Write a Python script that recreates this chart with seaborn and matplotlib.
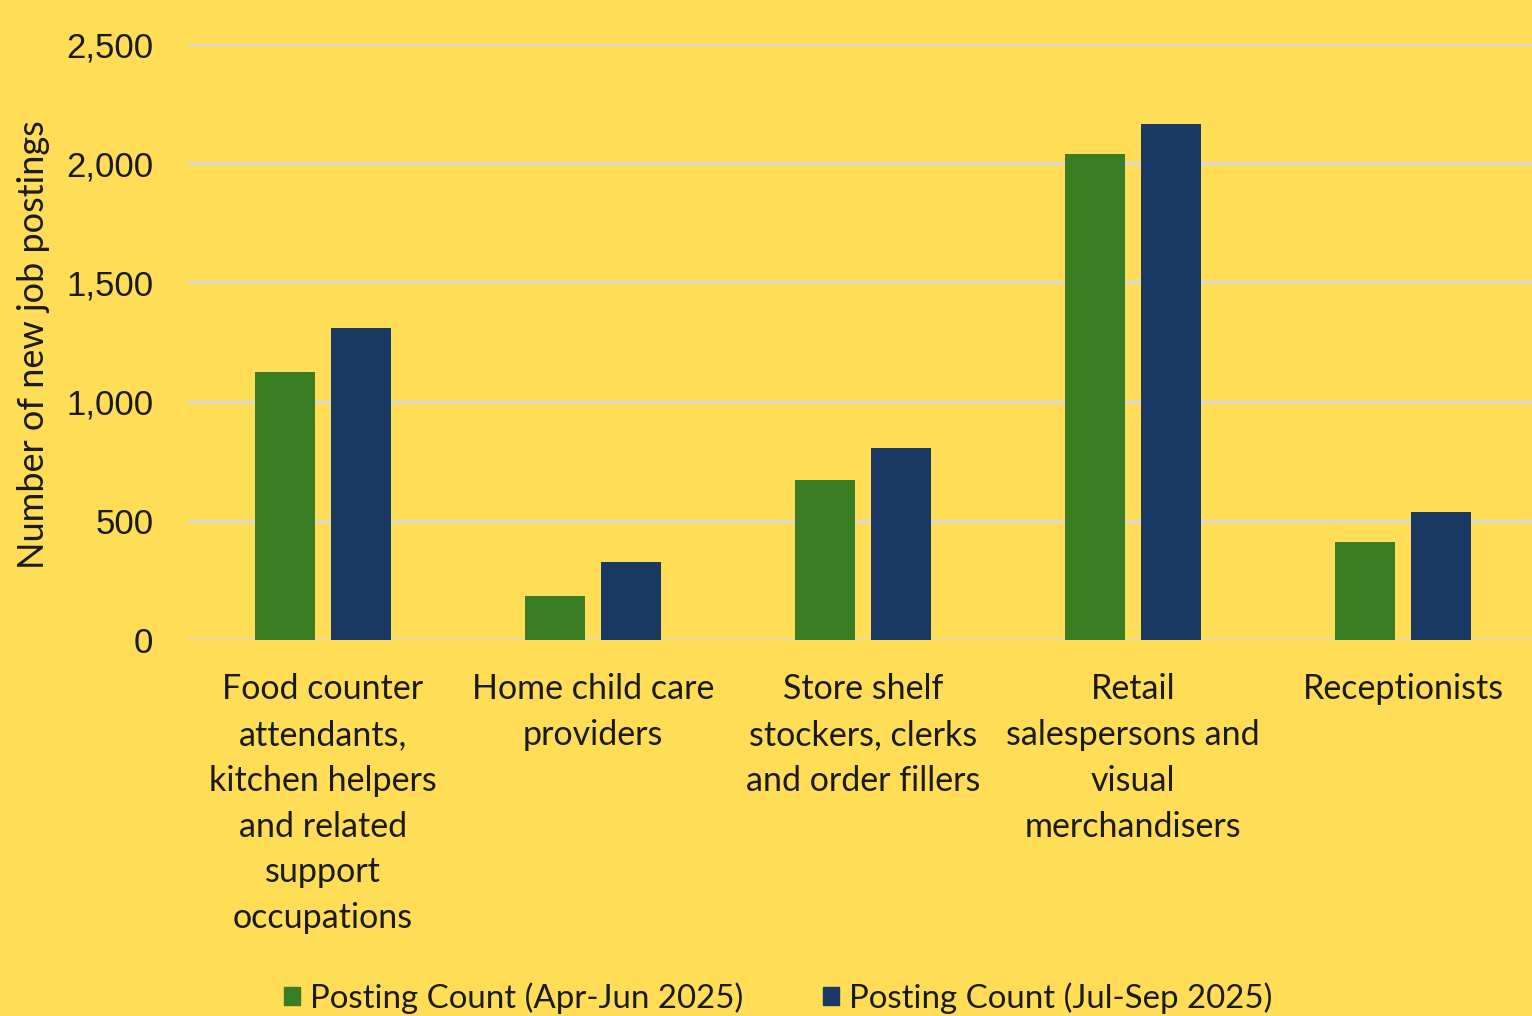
import matplotlib
matplotlib.use("Agg")
import matplotlib.pyplot as plt
import seaborn as sns
import pandas as pd
from matplotlib.patches import Patch

categories = [
    "Food counter\nattendants,\nkitchen helpers\nand related\nsupport\noccupations",
    "Home child care\nproviders",
    "Store shelf\nstockers, clerks\nand order fillers",
    "Retail\nsalespersons and\nvisual\nmerchandisers",
    "Receptionists",
]
series_names = ["Posting Count (Apr-Jun 2025)", "Posting Count (Jul-Sep 2025)"]
apr_jun = [1124, 185, 671, 2039, 411]
jul_sep = [1309, 327, 805, 2165, 537]
yticks = [0, 500, 1000, 1500, 2000, 2500]

BG = "#FFDD57"
GREEN = "#3A7D22"
BLUE = "#1A3A63"
TXT = "#1a1a1a"

df = pd.DataFrame({
    "category": categories * 2,
    "series": [series_names[0]] * 5 + [series_names[1]] * 5,
    "value": apr_jun + jul_sep,
})

sns.set_theme(style="white")
plt.rcParams["font.family"] = ["Liberation Sans", "DejaVu Sans"]

W, H = 1532, 1016
fig = plt.figure(figsize=(W / 100, H / 100), dpi=100)
fig.patch.set_facecolor(BG)
ax = fig.add_axes([188 / W, (H - 640) / H, (1538 - 188) / W, 596 / H])
ax.set_facecolor(BG)

sns.barplot(data=df, x="category", y="value", hue="series", order=categories,
            hue_order=series_names, palette=[GREEN, BLUE], width=0.57, gap=0.22,
            ax=ax, legend=False, saturation=1, zorder=3, linewidth=0)

ax.set_xlim(-0.5, 4.5)
ax.set_ylim(0, 2500)
ax.set_yticks(yticks)
ax.set_yticklabels([f"{v:,}" for v in yticks], fontsize=25, color=TXT,
                   family=["Liberation Sans", "DejaVu Sans"])
ax.yaxis.grid(True, color="#D9D9D9", linewidth=2.2, zorder=0)
ax.set_axisbelow(True)
ax.tick_params(axis="y", length=0, pad=25)
ax.tick_params(axis="x", length=0, pad=24)
for s in ax.spines.values():
    s.set_visible(False)
for lbl in ax.get_xticklabels():
    lbl.set_fontsize(24.5)
    lbl.set_family(["Lato", "DejaVu Sans"])
    lbl.set_linespacing(1.53)
    lbl.set_color(TXT)
    lbl.set_va("top")
ax.set_xlabel("")
ax.set_ylabel("Number of new job postings", fontsize=26, color=TXT,
              family=["Lato", "DejaVu Sans"])
ax.yaxis.set_label_coords(-138 / 1350, (640 - 345) / 596)

handles = [Patch(facecolor=GREEN, edgecolor=GREEN), Patch(facecolor=BLUE, edgecolor=BLUE)]
fig.legend(handles, series_names, loc="center", bbox_to_anchor=(778 / W, 1 - 998 / H),
           ncol=2, frameon=False, prop={"family": ["Lato", "DejaVu Sans"], "size": 23.8},
           handlelength=0.5, handleheight=0.5, handletextpad=0.3, columnspacing=2.4,
           labelcolor=TXT, borderpad=0, borderaxespad=0)

fig.savefig("out.png", dpi=100, facecolor=BG)
